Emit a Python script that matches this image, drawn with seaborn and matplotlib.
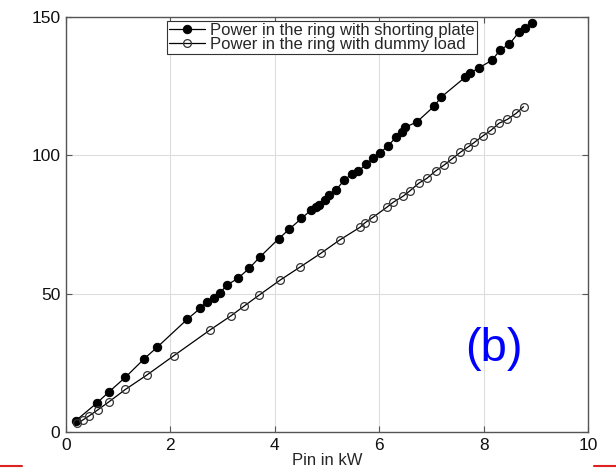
import numpy as np
import pandas as pd
import matplotlib
matplotlib.use("Agg")
import matplotlib.pyplot as plt
import seaborn as sns
from matplotlib.lines import Line2D

# Data
short_x = [0.19, 0.60, 0.83, 1.14, 1.50, 1.75, 2.32, 2.57, 2.70, 2.84, 2.95, 3.08, 3.29, 3.51,
           3.72, 4.07, 4.28, 4.51, 4.69, 4.79, 4.85, 4.96, 5.03, 5.17, 5.33, 5.47, 5.60, 5.75,
           5.88, 6.02, 6.16, 6.32, 6.44, 6.49, 6.72, 7.05, 7.18, 7.64, 7.73, 7.90, 8.16, 8.31,
           8.49, 8.67, 8.79, 8.92]
short_y = [4.1, 10.6, 14.6, 19.8, 26.5, 30.7, 40.7, 44.7, 47.1, 48.5, 50.3, 53.1, 55.5, 59.2,
           63.4, 69.8, 73.4, 77.2, 80.2, 81.2, 82.0, 83.8, 85.6, 87.5, 91.1, 93.2, 94.3, 96.9,
           98.9, 100.9, 103.4, 106.5, 108.5, 110.1, 112.1, 117.8, 121.0, 128.2, 129.6, 131.6,
           134.4, 138.1, 140.2, 144.5, 146.0, 148.0]
dummy_x = [0.22, 0.32, 0.45, 0.61, 0.83, 1.14, 1.55, 2.06, 2.76, 3.16, 3.41, 3.70, 4.10, 4.48,
           4.88, 5.24, 5.63, 5.73, 5.87, 6.14, 6.27, 6.46, 6.58, 6.76, 6.91, 7.08, 7.24, 7.39,
           7.55, 7.69, 7.82, 7.98, 8.14, 8.29, 8.45, 8.62, 8.76]
dummy_y = [3.1, 4.3, 5.9, 8.0, 11.0, 15.4, 20.6, 27.5, 36.9, 42.0, 45.5, 49.5, 54.9, 59.6,
           64.6, 69.4, 74.0, 75.7, 77.5, 81.2, 83.1, 85.3, 87.1, 90.0, 91.7, 94.4, 96.5, 98.7,
           101.1, 102.9, 104.7, 107.0, 109.1, 111.6, 113.0, 115.2, 117.6]
labels = ["Power in the ring with shorting plate", "Power in the ring with dummy load"]
x_ticks = [0, 2, 4, 6, 8, 10]
y_ticks = [0, 50, 100, 150]

sns.set_theme(style="whitegrid")
plt.rcParams['font.family'] = ['Liberation Sans', 'DejaVu Sans']

fig = plt.figure(figsize=(6.16, 4.74), dpi=100)
ax = fig.add_axes([0.107, 0.0886, 0.848, 0.8754])

df1 = pd.DataFrame({"x": short_x, "y": short_y})
df2 = pd.DataFrame({"x": dummy_x, "y": dummy_y})

sns.lineplot(data=df1, x="x", y="y", ax=ax, color="black", marker="o", markersize=6,
             markeredgecolor="black", markerfacecolor="black", linewidth=0.9,
             sort=False, label=labels[0])
sns.lineplot(data=df2, x="x", y="y", ax=ax, color="black", marker="o", markersize=5.6,
             markeredgecolor="#333333", markerfacecolor="none", markeredgewidth=0.9,
             linewidth=0.9, sort=False, label=labels[1])

ax.set_xlim(0, 10)
ax.set_ylim(0, 150)
ax.set_xticks(x_ticks)
ax.set_yticks(y_ticks)
ax.set_xlabel("Pin in kW", fontsize=12, labelpad=0)
ax.set_ylabel("")
ax.grid(True, color="#dddddd", linewidth=0.8)
for s in ax.spines.values():
    s.set_visible(True)
    s.set_color("#555555")
    s.set_linewidth(1.0)
ax.tick_params(axis="both", direction="in", length=4, width=0.8, colors="#555555",
               labelsize=12.5, top=True, right=True, bottom=True, left=True, pad=4)
ax.tick_params(axis="both", labelcolor="#111111")

leg = ax.legend(loc="upper center", bbox_to_anchor=(0.49, 0.995), fontsize=12,
                frameon=True, fancybox=False, edgecolor="#333333", framealpha=1,
                borderpad=0.12, labelspacing=-0.05, handletextpad=0.3, handlelength=2.2,
                borderaxespad=0.1)
leg.get_frame().set_linewidth(0.8)

ax.text(0.82, 0.2, "(b)", transform=ax.transAxes, color="#0000ff", fontsize=34,
        ha="center", va="center")

fig.add_artist(Line2D([0, 22 / 616], [1 - 466 / 474] * 2, color="#dd2222", lw=1.5,
                      transform=fig.transFigure))
fig.add_artist(Line2D([594 / 616, 1], [1 - 466 / 474] * 2, color="#dd2222", lw=1.5,
                      transform=fig.transFigure))

fig.savefig("out.png", dpi=100)
